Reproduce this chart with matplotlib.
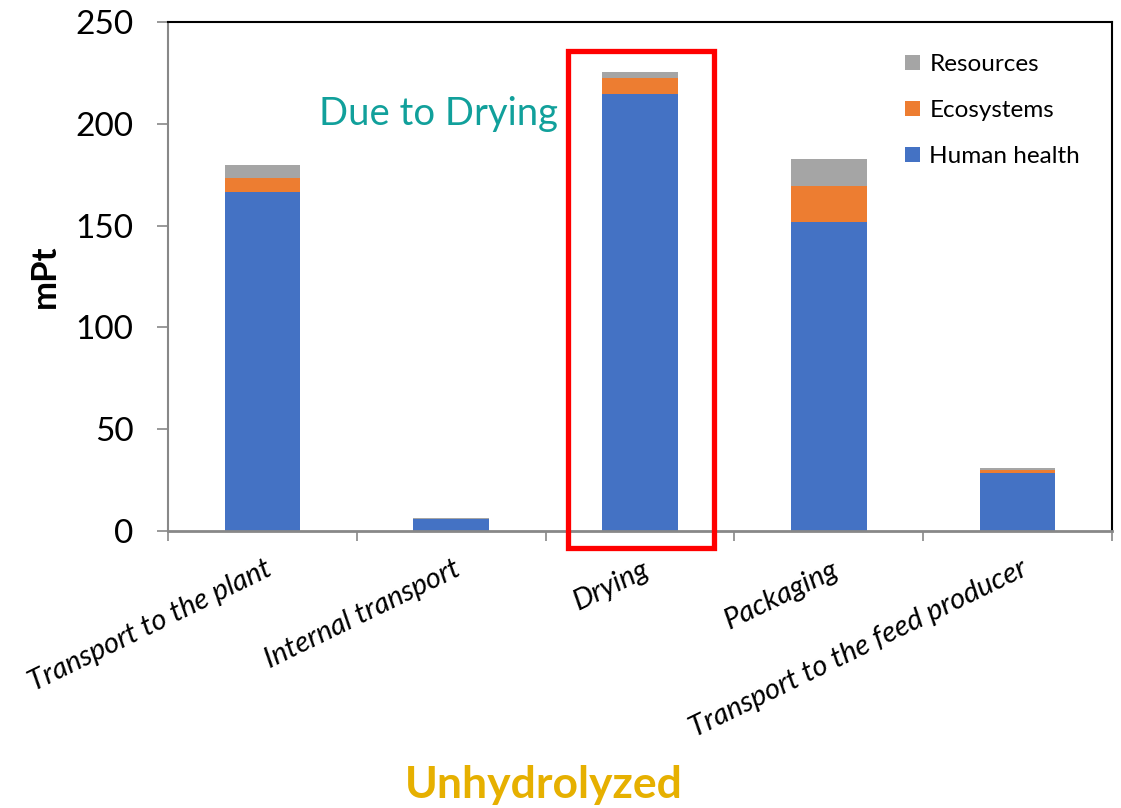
import matplotlib
matplotlib.use("Agg")
import matplotlib.pyplot as plt
import matplotlib.patches as patches
import matplotlib.transforms as mtransforms
import numpy as np

# -------- data -------- #
stages = ["Transport to the plant", "Internal transport", "Drying",
          "Packaging", "Transport to the feed producer"]
human_health = [166.3, 5.8, 214.8, 152.0, 28.6]
ecosystems = [7.1, 0.3, 7.7, 17.5, 1.3]
resources = [6.4, 0.2, 3.0, 13.3, 1.0]
y_ticks = [0, 50, 100, 150, 200, 250]

# -------- style -------- #
plt.rcParams['font.family'] = ['Lato', 'DejaVu Sans']
c_hh, c_eco, c_res = '#4472C4', '#ED7D31', '#A5A5A5'

fig = plt.figure(figsize=(11.21, 8.08), dpi=100)
ax = fig.add_axes([168 / 1121, 1 - 531 / 808, (1112 - 168) / 1121, (531 - 22) / 808])

x = np.arange(len(stages))
hh = np.array(human_health)
eco = np.array(ecosystems)
res = np.array(resources)

b1 = ax.bar(x, hh, width=0.4, color=c_hh, label='Human health')
b2 = ax.bar(x, eco, width=0.4, bottom=hh, color=c_eco, label='Ecosystems')
b3 = ax.bar(x, res, width=0.4, bottom=hh + eco, color=c_res, label='Resources')

ax.set_xlim(-0.5, len(stages) - 0.5)
ax.set_ylim(0, 250)
ax.set_yticks(y_ticks)
ax.tick_params(axis='y', labelsize=24, length=8, width=1.2, color='#888888', pad=17)

# category labels at the centres, tick marks at the boundaries
ax.set_xticks(x)
ax.set_xticklabels(stages, fontsize=21, style='italic', rotation=26,
                   ha='right', va='top', rotation_mode='anchor')
ax.tick_params(axis='x', length=0, pad=18)
ax.set_xticks(np.arange(-0.5, len(stages)), minor=True)
ax.tick_params(axis='x', which='minor', length=7, width=1.2, color='#888888')
shift = mtransforms.ScaledTranslation(2 / 100, 0, fig.dpi_scale_trans)
for lab in ax.get_xticklabels():
    lab.set_transform(lab.get_transform() + shift)

for side in ['top', 'right']:
    ax.spines[side].set_color('black')
    ax.spines[side].set_linewidth(1.5)
ax.spines['left'].set_color('#888888')
ax.spines['left'].set_linewidth(1.5)
ax.spines['bottom'].set_color('#888888')
ax.spines['bottom'].set_linewidth(2)

ax.set_ylabel('mPt', fontsize=25, fontweight='bold', labelpad=10)

# highlight box around the Drying bar
box = patches.Rectangle((2 - 0.38, -8.3), 0.773, 244.1, fill=False,
                        edgecolor='#FF0000', linewidth=3.8, clip_on=False, zorder=5)
ax.add_patch(box)

ax.text(0.3, 205, 'Due to Drying', fontsize=27.5, color='#11A09B', va='center', ha='left')

ax.legend(handles=[b3, b2, b1], loc='upper left', bbox_to_anchor=(893 / 1121, 1 - 42 / 808),
          bbox_transform=fig.transFigure, frameon=False, fontsize=17.5, borderpad=0,
          handlelength=0.6, handleheight=0.6, handletextpad=0.4, labelspacing=1.03)

fig.text(544 / 1121, 1 - 785 / 808, 'Unhydrolyzed', fontsize=32, fontweight='bold',
         color='#E6B000', ha='center', va='center')

fig.savefig('out.png', dpi=100)
